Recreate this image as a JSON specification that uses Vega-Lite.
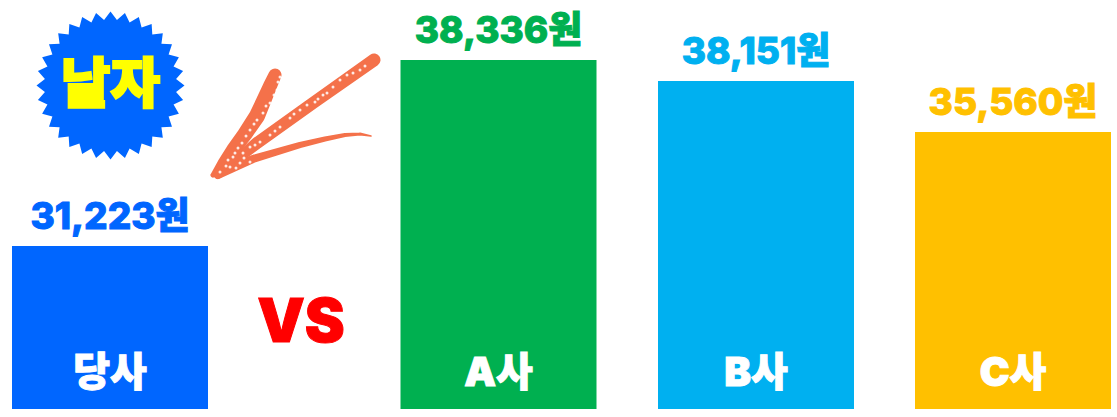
{
"$schema":"https://vega.github.io/schema/vega-lite/v6.json",
"autosize":{"type":"fit","contains":"padding"},
"width":1117,"height":417,"padding":0,"background":"#ffffff",
"view":{"stroke":null},
"config":{"axis":{"grid":false}},
"datasets":{
"bars":[
{"rank":1,"company":"당사","value":31223,"label":"31,223원"},
{"rank":2,"company":"A사","value":38336,"label":"38,336원"},
{"rank":3,"company":"B사","value":38151,"label":"38,151원"},
{"rank":4,"company":"C사","value":35560,"label":"35,560원"}],
"arrow":[
{"s":1,"i":0,"x":213,"y":175,"w":5},{"s":1,"i":1,"x":223,"y":163,"w":11},{"s":1,"i":2,"x":233,"y":150,"w":14},{"s":1,"i":3,"x":245,"y":134,"w":15},{"s":1,"i":4,"x":257,"y":116,"w":16},{"s":1,"i":5,"x":264,"y":100,"w":15},{"s":1,"i":6,"x":270,"y":86,"w":14},{"s":1,"i":7,"x":275,"y":75,"w":13},
{"s":2,"i":0,"x":218,"y":175,"w":8},{"s":2,"i":1,"x":257,"y":143,"w":12},{"s":2,"i":2,"x":313,"y":103,"w":12},{"s":2,"i":3,"x":374,"y":60,"w":13},
{"s":3,"i":0,"x":218,"y":174,"w":10},{"s":3,"i":1,"x":253,"y":159,"w":8},{"s":3,"i":2,"x":300,"y":145,"w":6},{"s":3,"i":3,"x":325,"y":139,"w":5},{"s":3,"i":4,"x":345,"y":135,"w":4},{"s":3,"i":5,"x":360,"y":134,"w":3},{"s":3,"i":6,"x":371,"y":136,"w":1.5}],
"specks":[
{"x":360,"y":70},{"x":353,"y":73},{"x":347,"y":75},{"x":340,"y":80},{"x":333,"y":87},{"x":323,"y":95},{"x":315,"y":102},{"x":307,"y":105},{"x":300,"y":110},{"x":290,"y":118},{"x":280,"y":127},{"x":270,"y":135},{"x":260,"y":142},{"x":250,"y":147},{"x":243,"y":153},{"x":233,"y":157},{"x":240,"y":163},{"x":250,"y":162},{"x":230,"y":167},{"x":220,"y":172},
{"x":280,"y":77},{"x":278,"y":82},{"x":277,"y":90},{"x":270,"y":103},{"x":263,"y":113},{"x":257,"y":120},{"x":250,"y":130},{"x":242,"y":143},{"x":235,"y":153},{"x":228,"y":160},
{"x":274,"y":95},{"x":266,"y":106},{"x":254,"y":124},{"x":246,"y":136},{"x":238,"y":148},{"x":226,"y":166},{"x":236,"y":168},{"x":244,"y":158},{"x":365,"y":66},{"x":327,"y":93},{"x":294,"y":114},{"x":275,"y":131},{"x":255,"y":145},{"x":318,"y":99}],
"badge":[{"x":110.5,"y":85.5,"text":"날자"}],
"vs":[{"x":301,"y":324,"text":"VS"}]
},
"layer":[
{"layer":[
{"data":{"name":"bars"},"mark":{"type":"bar","width":196,"orient":"vertical"},
"encoding":{
"x":{"field":"rank","type":"quantitative","axis":null,"scale":{"domain":[1,2,3,4],"range":[110,498.5,756,1013],"zero":false,"nice":false,"padding":0}},
"y":{"field":"value","type":"quantitative","axis":null,"scale":{"domain":[25023,31223,35560,38151,38336],"range":[409,246,132,81,60],"zero":false,"nice":false}},
"y2":{"datum":25023},
"color":{"field":"company","type":"nominal","legend":null,"scale":{"domain":["당사","A사","B사","C사"],"range":["#0066FF","#00B050","#00B0F0","#FFC000"]}}}},
{"data":{"name":"bars"},"mark":{"type":"text","font":"Inter, Noto Sans CJK KR","fontWeight":800,"fontSize":37,"dy":-28,"baseline":"middle","strokeWidth":1},
"encoding":{
"x":{"field":"rank","type":"quantitative"},
"y":{"field":"value","type":"quantitative"},
"text":{"field":"label"},
"color":{"field":"company","type":"nominal","legend":null},
"stroke":{"field":"company","type":"nominal","legend":null,"scale":{"domain":["당사","A사","B사","C사"],"range":["#0066FF","#00B050","#00B0F0","#FFC000"]}}}},
{"data":{"name":"bars"},"mark":{"type":"text","font":"Inter, Noto Sans CJK KR","fontWeight":900,"fontSize":40,"dy":-35,"baseline":"middle","color":"#ffffff","stroke":"#ffffff","strokeWidth":1},
"encoding":{
"x":{"field":"rank","type":"quantitative"},
"y":{"datum":25023},
"text":{"field":"company"}}}
]},
{"layer":[
{"data":{"name":"arrow"},"mark":{"type":"trail","color":"#F4714A","opacity":1},
"encoding":{
"x":{"field":"x","type":"quantitative","axis":null,"scale":{"domain":[0,1117],"nice":false,"zero":false}},
"y":{"field":"y","type":"quantitative","axis":null,"scale":{"domain":[417,0],"nice":false,"zero":false}},
"size":{"field":"w","type":"quantitative","scale":null,"legend":null},
"detail":{"field":"s"},
"order":{"field":"i","type":"quantitative"}}},
{"data":{"name":"specks"},"mark":{"type":"point","filled":true,"color":"#ffffff","opacity":0.85,"size":9},
"encoding":{
"x":{"field":"x","type":"quantitative"},
"y":{"field":"y","type":"quantitative"}}},
{"data":{"name":"badge"},"mark":{"type":"point","filled":true,"opacity":1,"color":"#0066FF","size":21904,"shape":"M1,0 L0.886,0.087 L0.981,0.195 L0.852,0.258 L0.924,0.383 L0.785,0.42 L0.831,0.556 L0.688,0.565 L0.707,0.707 L0.565,0.688 L0.556,0.831 L0.42,0.785 L0.383,0.924 L0.258,0.852 L0.195,0.981 L0.087,0.886 L0,1 L-0.087,0.886 L-0.195,0.981 L-0.258,0.852 L-0.383,0.924 L-0.42,0.785 L-0.556,0.831 L-0.565,0.688 L-0.707,0.707 L-0.688,0.565 L-0.831,0.556 L-0.785,0.42 L-0.924,0.383 L-0.852,0.258 L-0.981,0.195 L-0.886,0.087 L-1,0 L-0.886,-0.087 L-0.981,-0.195 L-0.852,-0.258 L-0.924,-0.383 L-0.785,-0.42 L-0.831,-0.556 L-0.688,-0.565 L-0.707,-0.707 L-0.565,-0.688 L-0.556,-0.831 L-0.42,-0.785 L-0.383,-0.924 L-0.258,-0.852 L-0.195,-0.981 L-0.087,-0.886 L0,-1 L0.087,-0.886 L0.195,-0.981 L0.258,-0.852 L0.383,-0.924 L0.42,-0.785 L0.556,-0.831 L0.565,-0.688 L0.707,-0.707 L0.688,-0.565 L0.831,-0.556 L0.785,-0.42 L0.924,-0.383 L0.852,-0.258 L0.981,-0.195 L0.886,-0.087 Z"},
"encoding":{
"x":{"field":"x","type":"quantitative"},
"y":{"field":"y","type":"quantitative"}}},
{"data":{"name":"badge"},"mark":{"type":"text","font":"Noto Sans CJK KR","fontWeight":900,"fontSize":54,"dy":1,"baseline":"middle","color":"#FFFF00","stroke":"#FFFF00","strokeWidth":2},
"encoding":{
"x":{"field":"x","type":"quantitative"},
"y":{"field":"y","type":"quantitative"},
"text":{"field":"text"}}},
{"data":{"name":"vs"},"mark":{"type":"text","font":"Inter","fontWeight":900,"fontSize":60,"baseline":"middle","color":"#FF0000","stroke":"#FF0000","strokeWidth":1},
"encoding":{
"x":{"field":"x","type":"quantitative"},
"y":{"field":"y","type":"quantitative"},
"text":{"field":"text"}}}
]}
],
"resolve":{"scale":{"x":"independent","y":"independent"}}
}
